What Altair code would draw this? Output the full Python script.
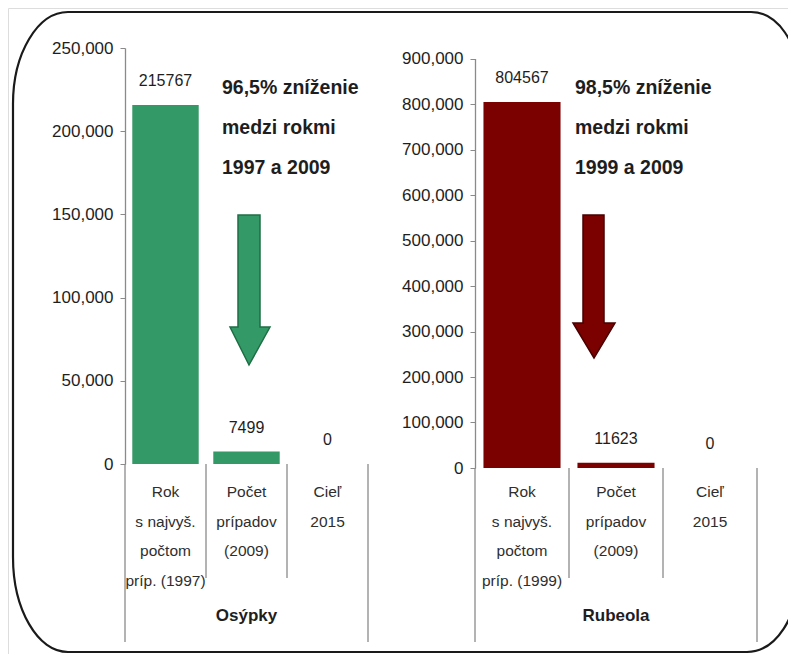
import altair as alt
import pandas as pd

FONT = "Liberation Sans, Arial, sans-serif"

# ---- data ----
measles_cats = ["Rok s najvyš. počtom príp. (1997)", "Počet prípadov (2009)", "Cieľ 2015"]
measles_labels = ["Rok\ns najvyš.\npočtom\npríp. (1997)", "Počet\nprípadov\n(2009)", "Cieľ\n2015"]
measles_values = [215767, 7499, 0]
measles_ticks = [0, 50000, 100000, 150000, 200000, 250000]

rubella_cats = ["Rok s najvyš. počtom príp. (1999)", "Počet prípadov (2009)", "Cieľ 2015"]
rubella_labels = ["Rok\ns najvyš.\npočtom\npríp. (1999)", "Počet\nprípadov\n(2009)", "Cieľ\n2015"]
rubella_values = [804567, 11623, 0]
rubella_ticks = [0, 100000, 200000, 300000, 400000, 500000, 600000, 700000, 800000, 900000]

panel_titles = ["Osýpky", "Rubeola"]
annotations = ["96,5% zníženie\nmedzi rokmi\n1997 a 2009", "98,5% zníženie\nmedzi rokmi\n1999 a 2009"]

W, H = 780, 646
GREEN = "#339966"
RED = "#7b0000"
AXIS_GRAY = "#8a8a8a"
TEXT = "#1e1e1e"


def panel(cats, labels, values, ticks, color, x_range, y_range, title):
    df = pd.DataFrame({"cat": cats, "label": labels, "value": values, "base": [0] * len(cats)})
    xscale = alt.Scale(domain=cats, range=x_range, paddingInner=0, paddingOuter=0)
    yscale = alt.Scale(domain=[0, ticks[-1]], range=y_range, nice=False, zero=True)
    yaxis = alt.Axis(values=ticks, format=",d", orient="left", offset=-x_range[0], grid=False,
                     domainColor=AXIS_GRAY, domainWidth=1.3, tickColor=AXIS_GRAY, tickSize=5,
                     labelFont=FONT, labelFontSize=17, labelColor=TEXT, labelPadding=7, title=None)
    xaxis = alt.Axis(orient="bottom", offset=-(H - y_range[0]), domain=True, domainColor=AXIS_GRAY,
                     domainWidth=1.3, ticks=False, labels=False, grid=False, title=None)
    base = alt.Chart(df)

    bars = base.mark_bar(width=alt.RelativeBandSize(0.82), color=color).encode(
        x=alt.X("cat:N", sort=cats, scale=xscale, axis=xaxis),
        y=alt.Y("value:Q", scale=yscale, axis=yaxis),
    )
    vlabels = base.mark_text(font=FONT, fontSize=16, color=TEXT, baseline="middle", dy=-24).encode(
        x=alt.X("cat:N", sort=cats, scale=xscale, axis=None),
        y=alt.Y("value:Q", scale=yscale, axis=yaxis),
        text="value:Q",
    )
    outer_left = base.transform_filter(alt.datum.cat == cats[0]).mark_rule(color=AXIS_GRAY, strokeWidth=1.3).encode(
        x=alt.X("cat:N", sort=cats, scale=xscale, axis=None, bandPosition=0),
        y=alt.Y("base:Q", scale=yscale, axis=yaxis),
        y2=alt.value(634),
    )
    inner = base.transform_filter(alt.datum.cat != cats[0]).mark_rule(color=AXIS_GRAY, strokeWidth=1.3).encode(
        x=alt.X("cat:N", sort=cats, scale=xscale, axis=None, bandPosition=0),
        y=alt.Y("base:Q", scale=yscale, axis=yaxis),
        y2=alt.value(570),
    )
    outer_right = base.transform_filter(alt.datum.cat == cats[-1]).mark_rule(color=AXIS_GRAY, strokeWidth=1.3).encode(
        x=alt.X("cat:N", sort=cats, scale=xscale, axis=None, bandPosition=1),
        y=alt.Y("base:Q", scale=yscale, axis=yaxis),
        y2=alt.value(634),
    )
    clabels = base.mark_text(font=FONT, fontSize=15.5, color="#2e2e2e", lineBreak="\n", lineHeight=29.5,
                             baseline="alphabetic", align="center").encode(
        x=alt.X("cat:N", sort=cats, scale=xscale, axis=None),
        y=alt.value(489),
        text="label:N",
    )
    ptitle = base.transform_filter(alt.datum.cat == cats[1]).mark_text(
        font=FONT, fontSize=17, fontWeight="bold", color=TEXT, baseline="alphabetic", align="center").encode(
        x=alt.X("cat:N", sort=cats, scale=xscale, axis=None),
        y=alt.value(613),
        text=alt.value(title),
    )
    return alt.layer(bars, vlabels, outer_left, inner, outer_right, clabels, ptitle)


left = panel(measles_cats, measles_labels, measles_values, measles_ticks, GREEN, [117, 360], [456, 40], panel_titles[0])
right = panel(rubella_cats, rubella_labels, rubella_values, rubella_ticks, RED, [467, 749], [460, 50.5], panel_titles[1])

one = pd.DataFrame({"k": [0]})

# decorations: annotations, arrows, rounded frame
ann_left = alt.Chart(one).mark_text(font=FONT, fontSize=19.5, fontWeight="bold", color=TEXT, align="left",
                                    baseline="alphabetic", lineBreak="\n", lineHeight=40).encode(
    x=alt.value(214), y=alt.value(85.5), text=alt.value(annotations[0]))
ann_right = alt.Chart(one).mark_text(font=FONT, fontSize=19.5, fontWeight="bold", color=TEXT, align="left",
                                     baseline="alphabetic", lineBreak="\n", lineHeight=40).encode(
    x=alt.value(567), y=alt.value(85.5), text=alt.value(annotations[1]))

arrow_left_path = "M230,207 H252 V319 H262 L241,357 L222,319 H230 Z"
arrow_right_path = "M575,207 H596 V315 H607 L586,350 L565,315 H575 Z"
arrow_left = alt.Chart(one).mark_point(shape=arrow_left_path, size=4, filled=True, fill=GREEN, stroke="#1f6e45",
                                       strokeWidth=1.5, opacity=1).encode(x=alt.value(0), y=alt.value(0))
arrow_right = alt.Chart(one).mark_point(shape=arrow_right_path, size=4, filled=True, fill=RED, stroke="#4a0000",
                                        strokeWidth=1.5, opacity=1).encode(x=alt.value(0), y=alt.value(0))

L, T, R, B = 5, 4, 791, 644
frame_path = (f"M{L+55},{T} H{R-48} A48,70 0 0 1 {R},{T+70} V{B-80} A52,80 0 0 1 {R-52},{B} "
              f"H{L+55} A55,95 0 0 1 {L},{B-95} V{T+92} A55,92 0 0 1 {L+55},{T} Z")
frame = alt.Chart(one).mark_point(shape=frame_path, size=4, filled=False, stroke="#1a1a1a",
                                  strokeWidth=2.2, opacity=1).encode(x=alt.value(0), y=alt.value(0))

chart = alt.layer(left, right, ann_left, ann_right, arrow_left, arrow_right, frame).resolve_scale(
    x="independent", y="independent").resolve_axis(x="independent", y="independent").properties(
    width=W, height=H, autosize=alt.AutoSizeParams(type="none"), padding=0,
).configure_view(stroke=None).configure(background="white")

chart.save("out.html", embed_options={"renderer": "svg", "actions": False})
